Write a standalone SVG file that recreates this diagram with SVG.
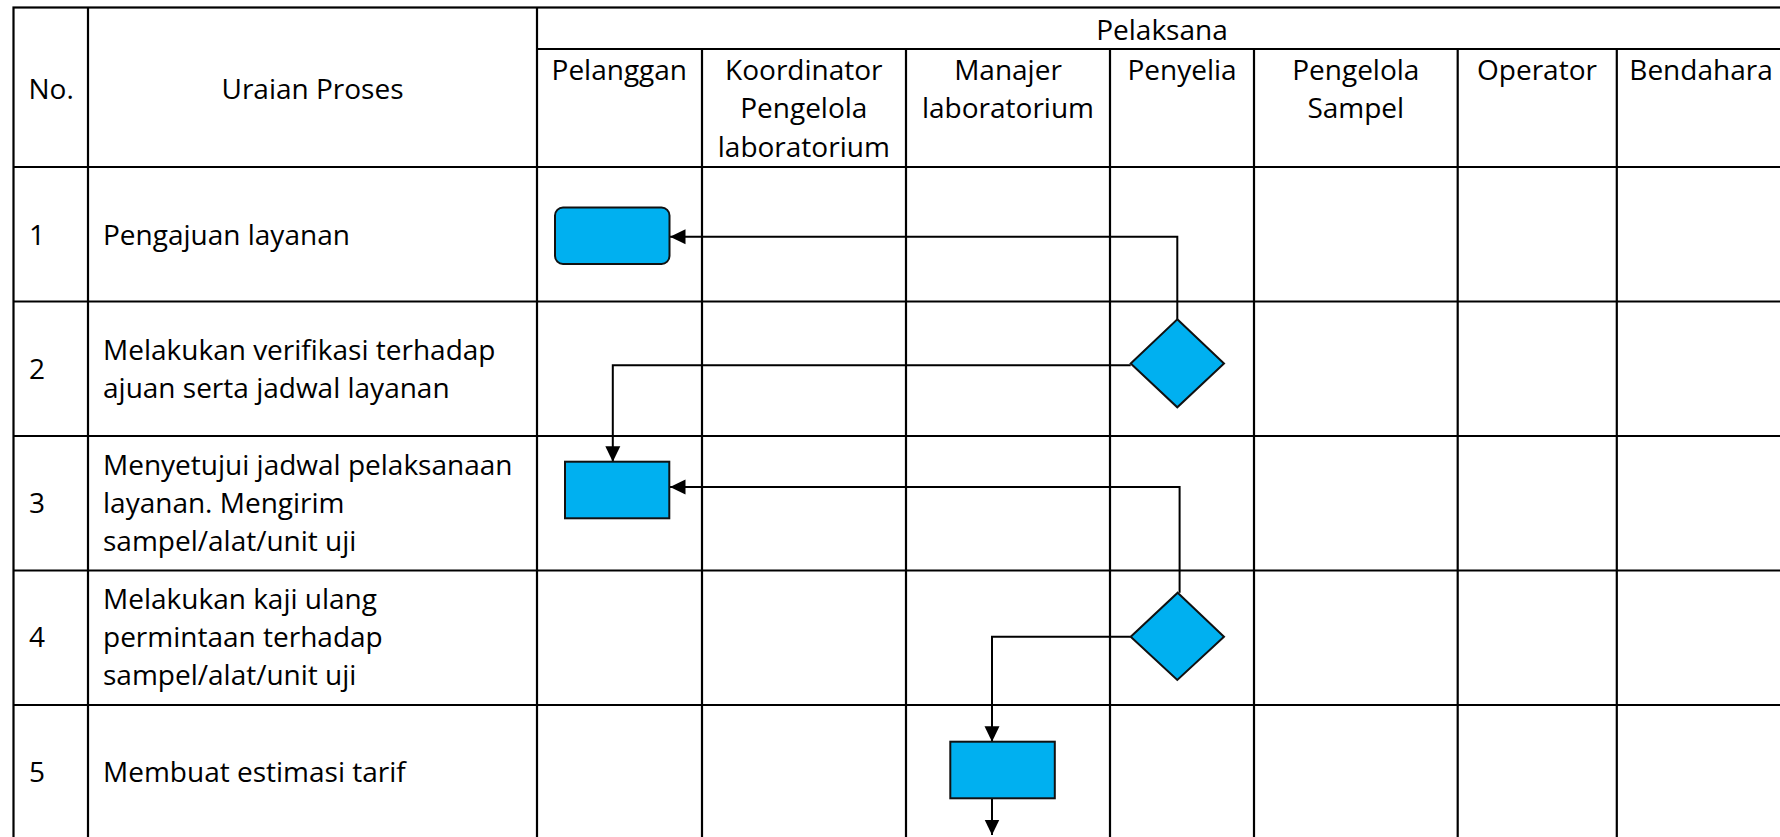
<svg xmlns="http://www.w3.org/2000/svg" width="1780" height="837" viewBox="0 0 1780 837">
<style>
.grid{stroke:#000;stroke-width:2.2;fill:none}
.t{font-family:"Open Sans","Noto Sans","Liberation Sans",sans-serif;font-size:28px;fill:#000}
.c{text-anchor:middle}
.node{fill:#00B0F0;stroke:#111;stroke-width:2}
.conn{fill:none;stroke:#000;stroke-width:2;marker-end:url(#arr)}
</style>
<defs>
<marker id="arr" markerUnits="userSpaceOnUse" markerWidth="16" markerHeight="16" viewBox="0 0 16 16" refX="15.5" refY="8" orient="auto">
<path d="M0,0.5 L15.5,8 L0,15.5 z" fill="#000"/>
</marker>
</defs>
<rect width="1780" height="837" fill="#fff"/>
<g id="table" class="grid">
<rect x="13.5" y="7.5" width="1771.5" height="832"/>
<line x1="537" y1="49" x2="1785" y2="49"/>
<line x1="13.5" y1="167" x2="1785" y2="167"/>
<line x1="13.5" y1="301.5" x2="1785" y2="301.5"/>
<line x1="13.5" y1="436" x2="1785" y2="436"/>
<line x1="13.5" y1="570.5" x2="1785" y2="570.5"/>
<line x1="13.5" y1="705" x2="1785" y2="705"/>
<line x1="88" y1="7.5" x2="88" y2="840"/>
<line x1="537" y1="7.5" x2="537" y2="840"/>
<line x1="702" y1="49" x2="702" y2="840"/>
<line x1="906" y1="49" x2="906" y2="840"/>
<line x1="1110" y1="49" x2="1110" y2="840"/>
<line x1="1254" y1="49" x2="1254" y2="840"/>
<line x1="1457.7" y1="49" x2="1457.7" y2="840"/>
<line x1="1616.8" y1="49" x2="1616.8" y2="840"/>
</g>
<g id="headers">
<text class="t" x="28.5" y="99">No.</text>
<text class="t c" x="312.5" y="99">Uraian Proses</text>
<text class="t c" x="1162" y="39.5">Pelaksana</text>
<text class="t c" x="619.3" y="80">Pelanggan</text>
<text class="t c" x="803.8" y="80">Koordinator</text>
<text class="t c" x="803.8" y="118.3">Pengelola</text>
<text class="t c" x="803.8" y="156.7">laboratorium</text>
<text class="t c" x="1008" y="80">Manajer</text>
<text class="t c" x="1008" y="118.3">laboratorium</text>
<text class="t c" x="1182" y="80">Penyelia</text>
<text class="t c" x="1355.8" y="80">Pengelola</text>
<text class="t c" x="1355.8" y="118.3">Sampel</text>
<text class="t c" x="1537" y="80">Operator</text>
<text class="t c" x="1701" y="80">Bendahara</text>
</g>
<g id="rows">
<text class="t" x="29" y="245">1</text>
<text class="t" x="103" y="245">Pengajuan layanan</text>
<text class="t" x="29" y="378.5">2</text>
<text class="t" x="103" y="359.5">Melakukan verifikasi terhadap</text>
<text class="t" x="103" y="397.5">ajuan serta jadwal layanan</text>
<text class="t" x="29" y="513">3</text>
<text class="t" x="103" y="475">Menyetujui jadwal pelaksanaan</text>
<text class="t" x="103" y="513">layanan. Mengirim</text>
<text class="t" x="103" y="551">sampel/alat/unit uji</text>
<text class="t" x="29" y="647">4</text>
<text class="t" x="103" y="609">Melakukan kaji ulang</text>
<text class="t" x="103" y="647">permintaan terhadap</text>
<text class="t" x="103" y="685">sampel/alat/unit uji</text>
<text class="t" x="29" y="782">5</text>
<text class="t" x="103" y="782">Membuat estimasi tarif</text>
</g>
<g id="connectors">
<path class="conn" d="M1177.3,319.3 V236.7 H670"/>
<path class="conn" d="M1130.7,365.3 H612.8 V461.7"/>
<path class="conn" d="M1179.6,592.7 V487 H670"/>
<path class="conn" d="M1130.7,636.7 H992 V741.7"/>
<path class="conn" d="M992,798.3 V835"/>
</g>
<g id="node1"><rect class="node" x="555" y="207.5" width="114.5" height="56.5" rx="8"/></g>
<g id="node2"><path class="node" d="M1177.3,319.3 L1224,363.5 L1177.3,407.3 L1130.7,363.5 z"/></g>
<g id="node3"><rect class="node" x="565" y="461.7" width="104.3" height="56.6"/></g>
<g id="node4"><path class="node" d="M1177.7,592.7 L1224,636.7 L1177.3,680 L1130.7,636.7 z"/></g>
<g id="node5"><rect class="node" x="950.3" y="741.7" width="104.5" height="56.6"/></g>
</svg>
